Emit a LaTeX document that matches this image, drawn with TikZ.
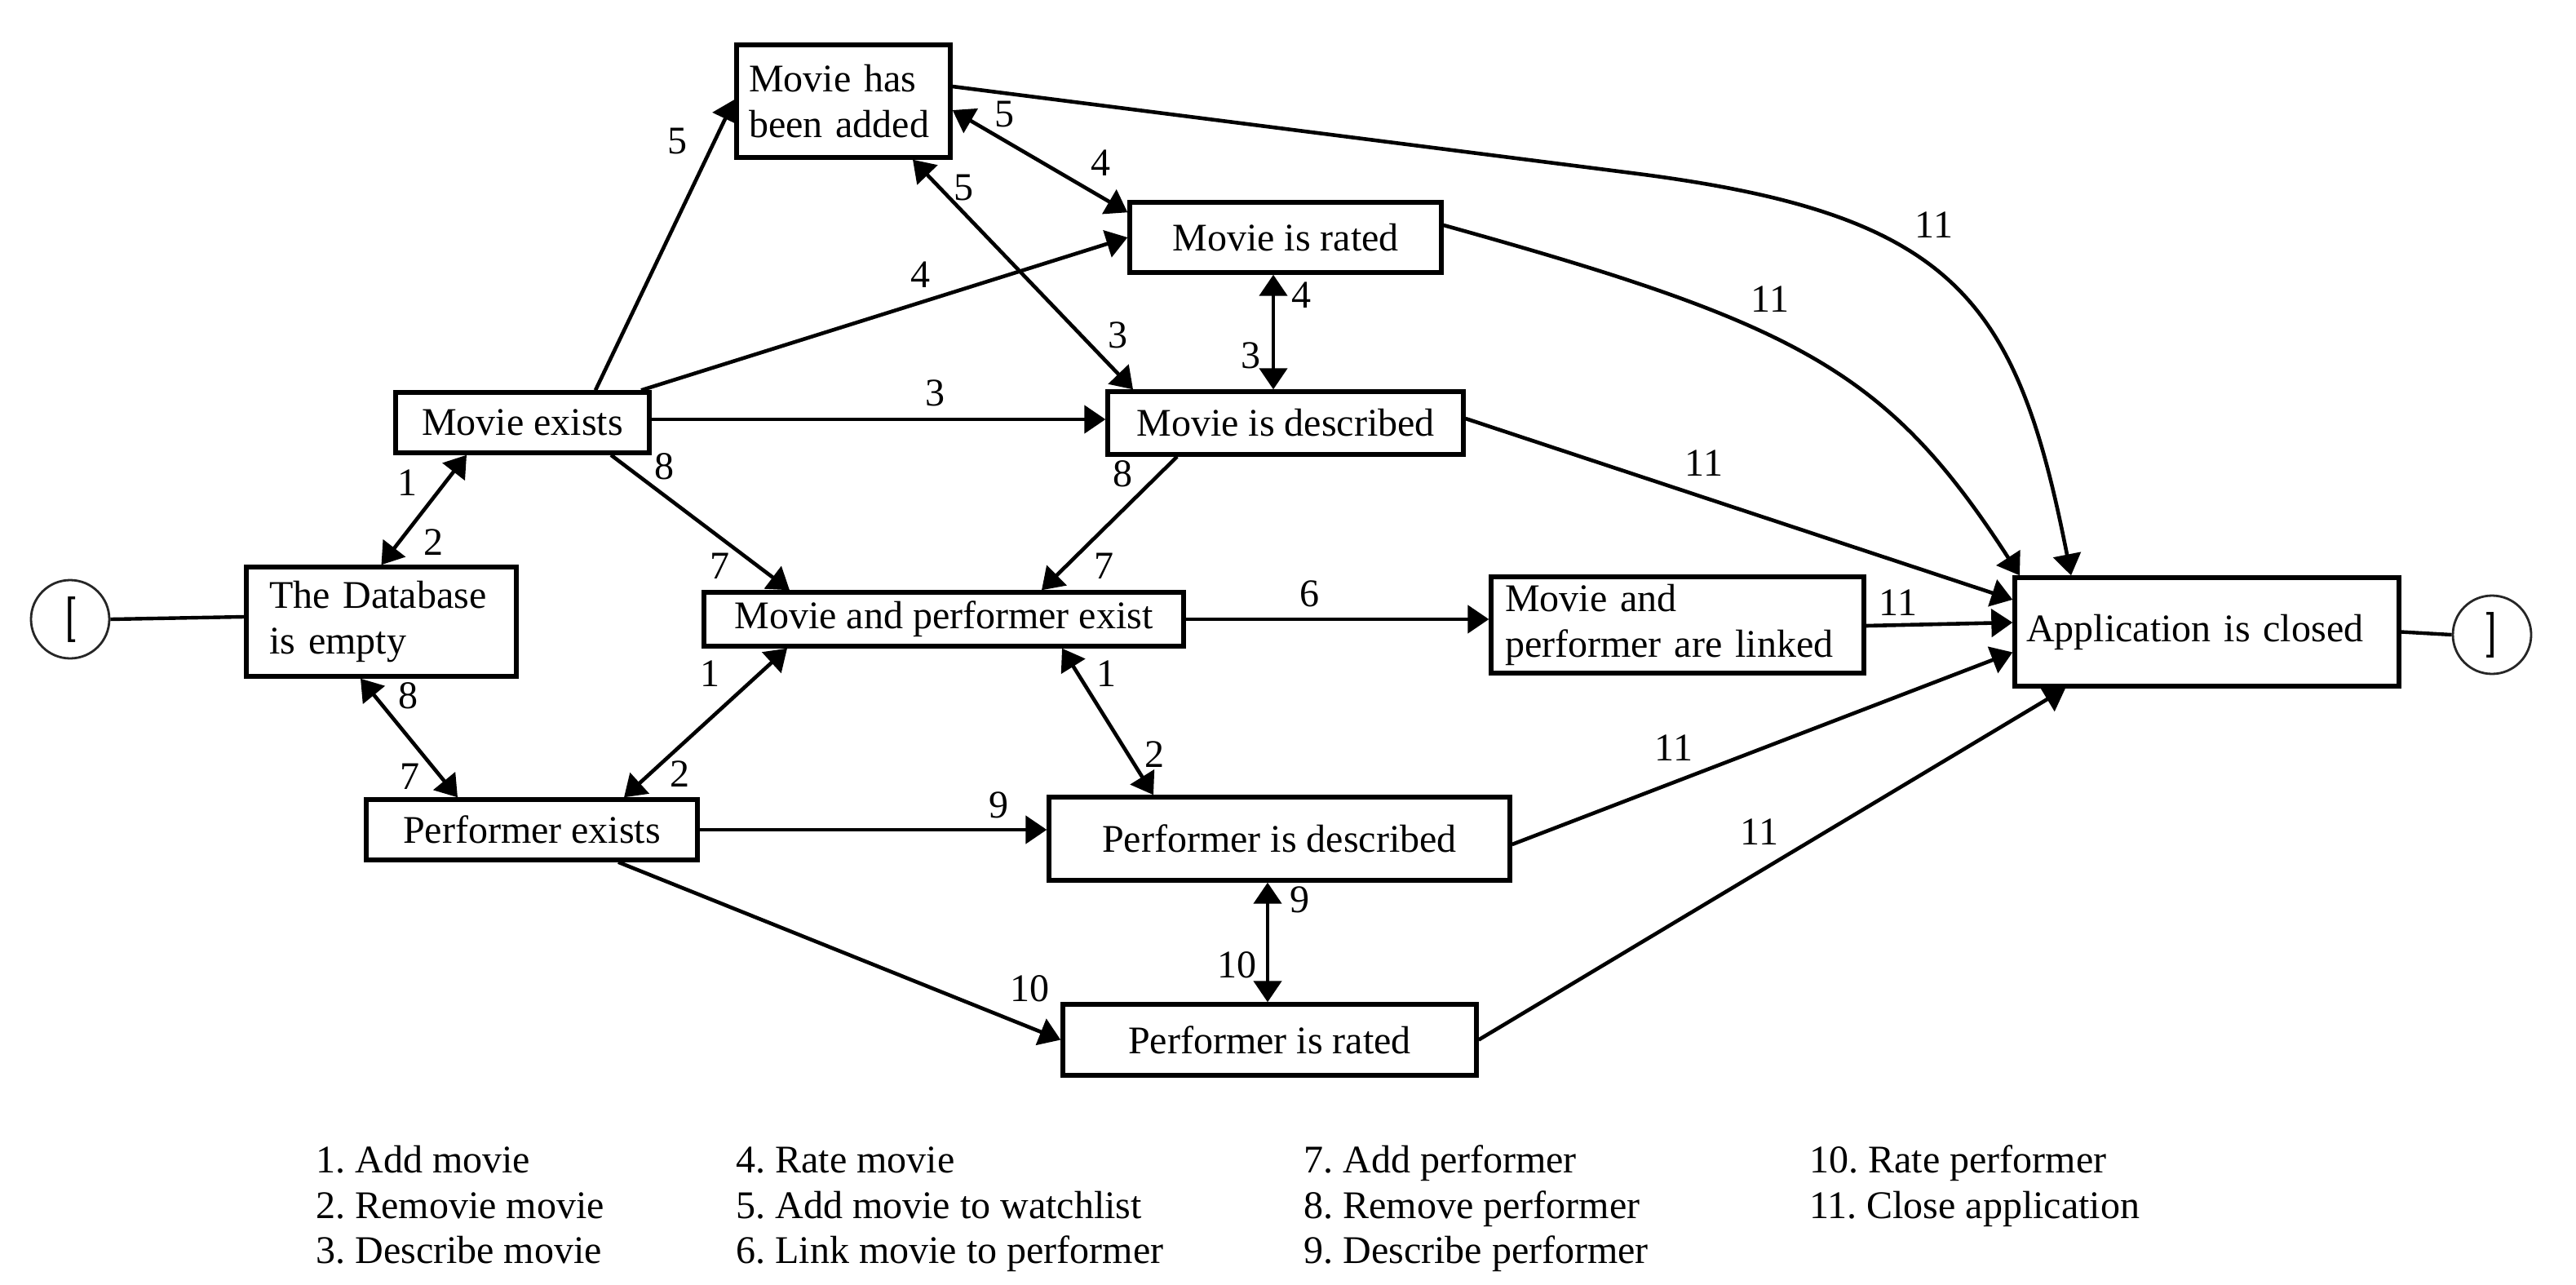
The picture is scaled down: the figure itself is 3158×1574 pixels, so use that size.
\documentclass[tikz,border=0pt]{standalone}
\usepackage{fontspec}
\setmainfont{Liberation Serif}
\usetikzlibrary{arrows.meta}
\frenchspacing
\tikzset{
  box/.style={draw, line width=2.7pt, inner sep=0pt, font=\fontsize{24}{28}\selectfont},
  lbl/.style={inner sep=0pt, font=\fontsize{24}{28}\selectfont},
  legend/.style={inner sep=0pt, anchor=base west, font=\fontsize{24}{28}\selectfont},
  term/.style={circle, draw=black!85, line width=1.4pt, minimum size=48pt, inner sep=0pt, font=\fontsize{28}{30}\selectfont\sffamily},
  conn/.style={line width=2.3pt, -{Triangle[length=13pt,width=17pt]}},
  bi/.style={line width=2.3pt, {Triangle[length=13pt,width=17pt]}-{Triangle[length=13pt,width=17pt]}},
  plain/.style={line width=2.2pt}
}
\begin{document}
\begin{tikzpicture}[x=0.5pt,y=-0.5pt]
\fill[white] (0,0) rectangle (3158,1574);
\useasboundingbox (0,0) rectangle (3158,1574);

% terminals
\node[term] (st) at (86,759) {[};
\node[term] (en) at (3055,778) {]};

% states
\node[box, minimum width=165.5pt, minimum height=67pt, text width=137.5pt, align=left] (db) at (467.5,762) {The Database\\is empty};
\node[box, minimum width=155.5pt, minimum height=37pt] (mex) at (640.5,518) {Movie exists};
\node[box, minimum width=131pt, minimum height=69pt, text width=116pt, align=left] (mhba) at (1034,124) {Movie has\\been added};
\node[box, minimum width=191pt, minimum height=43pt] (mir) at (1576,291) {Movie is rated};
\node[box, minimum width=218pt, minimum height=38.5pt] (mid) at (1576,518.5) {Movie is described};
\node[box, minimum width=294pt, minimum height=33pt] (mape) at (1157,759) {Movie and performer exist};
\node[box, minimum width=228.5pt, minimum height=59pt, text width=211.5pt, align=left] (mapl) at (2056.5,766) {Movie and\\performer are linked};
\node[box, minimum width=235.5pt, minimum height=66.5pt, text width=221.5pt, align=left] (app) at (2705.5,774.5) {Application is closed};
\node[box, minimum width=203pt, minimum height=37pt] (pex) at (652,1017) {Performer exists};
\node[box, minimum width=282.5pt, minimum height=51pt] (pid) at (1568.5,1028) {Performer is described};
\node[box, minimum width=253.5pt, minimum height=43.5pt] (pir) at (1556.5,1274.5) {Performer is rated};

% terminal lines
\draw[plain] (st.east) -- ([yshift=3pt]db.west);
\draw[plain] (app.east) -- (en.west);

% connectors
\draw[bi] (db.north) -- ([xshift=-34.25pt]mex.south);
\draw[bi] ([xshift=-12.75pt]db.south) -- ([xshift=-45.5pt]pex.north);
\draw[conn] ([xshift=44.75pt]mex.north) -- ([yshift=1pt]mhba.west);
\draw[conn] ([xshift=72.75pt]mex.north) -- (mir.west);
\coordinate (m3) at ([yshift=2pt]mex.east);
\draw[conn] (m3) -- (m3 -| mid.west);
\draw[conn] ([xshift=54.25pt]mex.south) -- ([xshift=-94.5pt]mape.north);
\draw[bi] ([yshift=-5.5pt]mhba.east) -- ([yshift=-7.5pt]mir.north west);
\draw[bi] ([xshift=42.5pt]mhba.south) -- ([xshift=-93.5pt]mid.north);
\draw[bi] ([xshift=-7.5pt]mir.south) -- ([xshift=-7.5pt]mid.north);
\draw[conn] ([xshift=-66.5pt]mid.south) -- ([xshift=60pt]mape.north);
\draw[conn] (mape.east) -- (mape.east -| mapl.west);
\draw[bi] ([xshift=-96pt]mape.south) -- ([xshift=56.5pt]pex.north);
\draw[bi] ([xshift=72.5pt]mape.south) -- ([xshift=-77.25pt]pid.north);
\draw[conn] (pex.east) -- (pex.east -| pid.west);
\draw[conn] ([xshift=53pt]pex.south) -- (pir.west);
\draw[bi] ([xshift=-7.25pt]pid.south) -- ([xshift=-1.25pt]pir.north);
\draw[conn] ([yshift=9pt]mhba.east) -- (2000,212) .. controls (2397,262) and (2472,365) .. ([xshift=-83.25pt]app.north);
\draw[conn] ([yshift=7.5pt]mir.east) .. controls (2208,398) and (2314,455) .. ([xshift=-114.75pt]app.north);
\draw[conn] ([yshift=2.75pt]mid.east) -- ([yshift=19.75pt]app.west);
\draw[conn] ([yshift=-0.5pt]mapl.east) -- ([yshift=5.75pt]app.west);
\draw[conn] ([yshift=-3.5pt]pid.east) -- ([yshift=-12.5pt]app.west);
\draw[conn] (pir.east) -- ([xshift=-86.75pt]app.south);

% labels
\node[lbl] (a1) at (499,592) {1};
\node[lbl] (a2) at (531,665) {2};
\node[lbl] (b8) at (500,853) {8};
\node[lbl] (b7) at (502,952) {7};
\node[lbl] (c5) at (830,173) {5};
\node[lbl] (d4) at (1128,337) {4};
\node[lbl] (e3) at (1146,482) {3};
\node[lbl] (f8) at (814,572) {8};
\node[lbl] (f7) at (882,694) {7};
\node[lbl] (g5) at (1231,140) {5};
\node[lbl] (g4) at (1349,200) {4};
\node[lbl] (h5) at (1181,230) {5};
\node[lbl] (h3) at (1370,411) {3};
\node[lbl] (i4) at (1595,362) {4};
\node[lbl] (i3) at (1533,436) {3};
\node[lbl] (j8) at (1376,581) {8};
\node[lbl] (j7) at (1353,694) {7};
\node[lbl] (k6) at (1605,728) {6};
\node[lbl] (l1) at (870,826) {1};
\node[lbl] (l2) at (833,949) {2};
\node[lbl] (m1) at (1356,826) {1};
\node[lbl] (m2) at (1415,925) {2};
\node[lbl] (n9) at (1224,987) {9};
\node[lbl] (o10) at (1262,1212) {10};
\node[lbl] (p9) at (1593,1103) {9};
\node[lbl] (p10) at (1516,1183) {10};
\node[lbl] (q11) at (2371,276) {11};
\node[lbl] (r11) at (2170,367) {11};
\node[lbl] (s11) at (2089,568) {11};
\node[lbl] (t11) at (2327,739) {11};
\node[lbl] (u11) at (2052,917) {11};
\node[lbl] (v11) at (2157,1020) {11};

% legend
\node[legend] (k1) at (387,1437) {1. Add movie};
\node[legend] (k2) at (387,1493) {2. Removie movie};
\node[legend] (k3) at (387,1548) {3. Describe movie};
\node[legend] (k4) at (902,1437) {4. Rate movie};
\node[legend] (k5) at (902,1493) {5. Add movie to watchlist};
\node[legend] (k6) at (902,1548) {6. Link movie to performer};
\node[legend] (k7) at (1598,1437) {7. Add performer};
\node[legend] (k8) at (1598,1493) {8. Remove performer};
\node[legend] (k9) at (1598,1548) {9. Describe performer};
\node[legend] (k10) at (2218,1437) {10. Rate performer};
\node[legend] (k11) at (2218,1493) {11. Close application};
\end{tikzpicture}
\end{document}
